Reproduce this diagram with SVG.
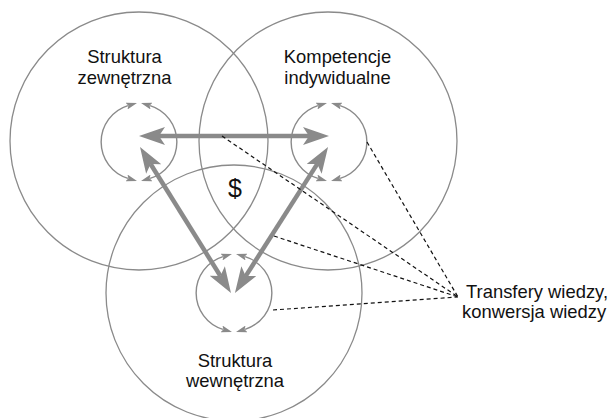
<svg xmlns="http://www.w3.org/2000/svg" width="612" height="418" viewBox="0 0 612 418">
<style>
.big{fill:none;stroke:#8a8a8a;stroke-width:1.3}
.arc{fill:none;stroke:#8a8a8a;stroke-width:1.4;marker-start:url(#sm);marker-end:url(#sm)}
.thick{fill:none;stroke:#8a8a8a;stroke-width:4.5;marker-start:url(#bg);marker-end:url(#bg)}
.dash{fill:none;stroke:#111;stroke-width:1.2;stroke-dasharray:4 3}
text{font-family:"Liberation Sans",Arial,sans-serif;font-size:18.4px;fill:#111}
.c{text-anchor:middle}
</style>
<defs>
<marker id="sm" markerUnits="userSpaceOnUse" viewBox="0 0 11 7" refX="1.5" refY="3.5" markerWidth="11" markerHeight="7" orient="auto-start-reverse">
<path d="M0,0 L11,3.5 L0,7 L2,3.5 z" fill="#8a8a8a"/>
</marker>
<marker id="bg" markerUnits="userSpaceOnUse" viewBox="0 0 26 18" refX="6" refY="9" markerWidth="26" markerHeight="18" orient="auto-start-reverse">
<path d="M0,0 L26,9 L0,18 L6,9 z" fill="#8a8a8a"/>
</marker>
</defs>
<rect width="612" height="418" fill="#fff"/>
<g id="zewnetrzna">
<circle class="big" cx="139" cy="141" r="129"/>
<path class="arc" d="M127.9,178.3 A38,38 0 0 1 127.9,105.7"/>
<path class="arc" d="M150.1,105.7 A38,38 0 0 1 150.1,178.3"/>
<text class="c" x="124.5" y="63">Struktura</text>
<text class="c" x="124.5" y="84">zewnętrzna</text>
</g>
<g id="kompetencje">
<circle class="big" cx="328" cy="141" r="129"/>
<path class="arc" d="M317.9,178.3 A38,38 0 0 1 317.9,105.7"/>
<path class="arc" d="M340.1,105.7 A38,38 0 0 1 340.1,178.3"/>
<text class="c" x="337.5" y="63">Kompetencje</text>
<text class="c" x="337.5" y="83.5">indywidualne</text>
</g>
<g id="wewnetrzna">
<circle class="big" cx="234" cy="293" r="128"/>
<path class="arc" d="M222.9,329.3 A38,38 0 0 1 222.9,256.7"/>
<path class="arc" d="M245.1,256.7 A38,38 0 0 1 245.1,329.3"/>
<text class="c" x="235" y="366.5">Struktura</text>
<text class="c" x="235" y="386.5">wewnętrzna</text>
</g>
<g id="wartosc">
<text class="c" x="235" y="197" style="font-size:25px">$</text>
</g>
<g id="transfery">
<text x="466" y="298">Transfery wiedzy,</text>
<text x="462" y="318">konwersja wiedzy</text>
</g>
<g id="connectors">
<path class="thick" d="M159,136 L309,136"/>
<path class="thick" d="M150.6,164 L220.4,276"/>
<path class="thick" d="M317.3,163.9 L245.7,276.1"/>
<path class="dash" d="M222,136 L458,297"/>
<path class="dash" d="M367,142 L458,297"/>
<path class="dash" d="M274,236 L458,297"/>
<path class="dash" d="M273,310 L458,297"/>
</g>
</svg>
